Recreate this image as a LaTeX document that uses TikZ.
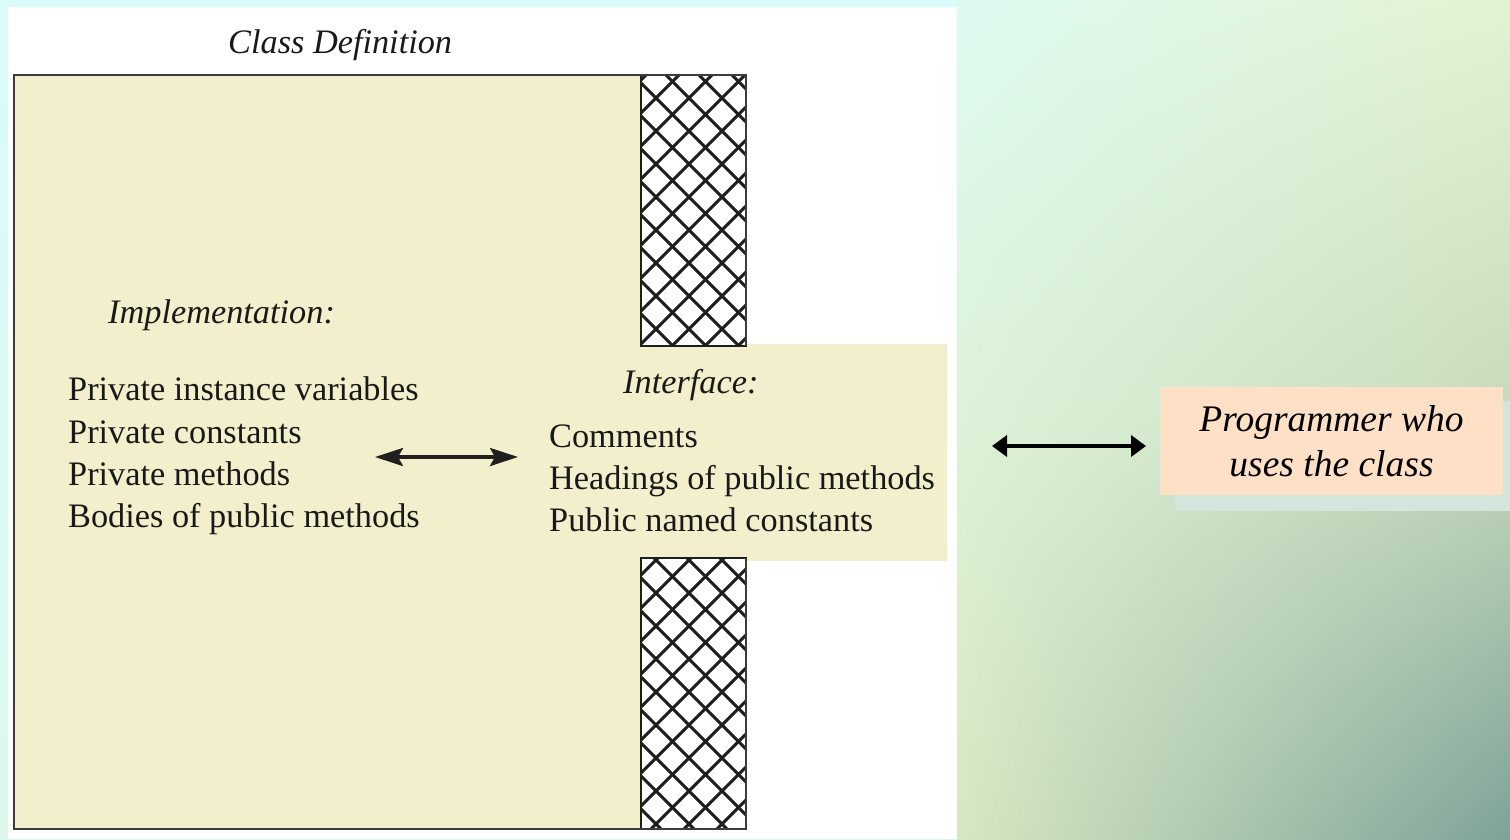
\documentclass[tikz,border=0pt]{standalone}
\usepackage{fontspec}
\setmainfont{Liberation Serif}
\usetikzlibrary{arrows.meta,shadings}
\definecolor{beige}{HTML}{F3EECB}
\definecolor{peach}{HTML}{FDE0C5}
\definecolor{shadowbox}{HTML}{D3E6DC}
\definecolor{frame}{HTML}{3C3C3C}
\definecolor{hatch}{HTML}{1E1E1E}
\definecolor{cyanbg}{HTML}{D9FCFA}
\definecolor{mintbg}{HTML}{DCF8EA}
\definecolor{bgA}{HTML}{DEFAF0}
\definecolor{bgB}{HTML}{E2F3D2}
\definecolor{bgC}{HTML}{DDF2D8}
\definecolor{bgD}{HTML}{C6DABB}
\definecolor{bgE}{HTML}{D6E8C3}
\definecolor{bgF}{HTML}{7FA298}
\newcommand{\bodyfont}{\fontsize{34.3}{40}\selectfont}
\newcommand{\progfont}{\fontsize{37.5}{45}\selectfont}
\tikzset{
  txt/.style={anchor=base west, inner sep=0pt, font=\bodyfont, text=black!90},
  ttl/.style={txt, font=\bodyfont\itshape},
  smallarrow/.style={line width=3.5pt, color=black!88,
    {Stealth[length=28pt,width=18pt,inset=5pt]}-{Stealth[length=28pt,width=18pt,inset=5pt]}},
  bigarrow/.style={line width=4.5pt, color=black,
    {Triangle[length=15pt,width=21pt]}-{Triangle[length=15pt,width=21pt]}},
  hatchline/.style={line width=3pt, color=hatch},
  colframe/.style={line width=2pt, draw=hatch}
}
\begin{document}
\begin{tikzpicture}[x=1pt,y=-1pt]
\useasboundingbox (0,0) rectangle (1510,839);
% page background
\shade[upper left=cyanbg, upper right=cyanbg, lower left=mintbg, lower right=mintbg]
  (0,0) rectangle (1510,839);
\shade[upper left=bgA, upper right=bgB, lower left=bgC, lower right=bgD]
  (957,0) rectangle (1510,420.5);
\shade[upper left=bgC, upper right=bgD, lower left=bgE, lower right=bgF]
  (957,420) rectangle (1510,839);
% white panel of the figure
\fill[white] (8,7) rectangle (957,839);

% class body and interface area
\fill[beige] (14,75) rectangle (746,829);
\fill[beige] (641,344) rectangle (947,561);

% hatched walls (one diagonal lattice, clipped to both walls)
\fill[white] (641,75) rectangle (746,346) (641,558) rectangle (746,829);
\begin{scope}
  \clip (641,75) rectangle (746,346) (641,558) rectangle (746,829);
  \foreach \k in {-7,...,20}{
    \draw[hatchline] (30+\k*33,0) -- ++(900,900);
  }
  \foreach \m in {21,...,48}{
    \draw[hatchline] (28+\m*33,0) -- ++(-900,900);
  }
\end{scope}
\draw[colframe] (641,75) rectangle (746,346);
\draw[colframe] (641,558) rectangle (746,829);
% outline of the class
\draw[line width=2pt, draw=frame] (746,346) -- (746,75) -- (14,75) -- (14,829) -- (746,829) -- (746,558);

% texts
\node[ttl] (title) at (228,53) {Class Definition};
\node[ttl] (impl) at (108,323) {Implementation:};
\node[txt] (p1) at (68,400) {Private instance variables};
\node[txt] (p2) at (68,443) {Private constants};
\node[txt] (p3) at (68,485) {Private methods};
\node[txt] (p4) at (68,527) {Bodies of public methods};
\node[ttl] (iface) at (623,393) {Interface:};
\node[txt] (i1) at (549,447) {Comments};
\node[txt] (i2) at (549,489) {Headings of public methods};
\node[txt] (i3) at (549,531) {Public named constants};

% inner arrow
\coordinate (ia1) at (375,457);
\coordinate (ia2) at (518,457);
\draw[smallarrow] (ia1) -- (ia2);

% programmer box with its shadow
\fill[shadowbox] (1175,401) rectangle (1510,511);
\node[fill=peach, minimum width=343pt, minimum height=108pt, inner sep=0pt,
      align=center, font=\progfont\itshape] (prog) at (1331.5,441)
      {Programmer who\\uses the class};

% outer arrow
\coordinate (oa1) at (992,446);
\coordinate (oa2) at (1146,446);
\draw[bigarrow] (oa1) -- (oa2);
\end{tikzpicture}
\end{document}
